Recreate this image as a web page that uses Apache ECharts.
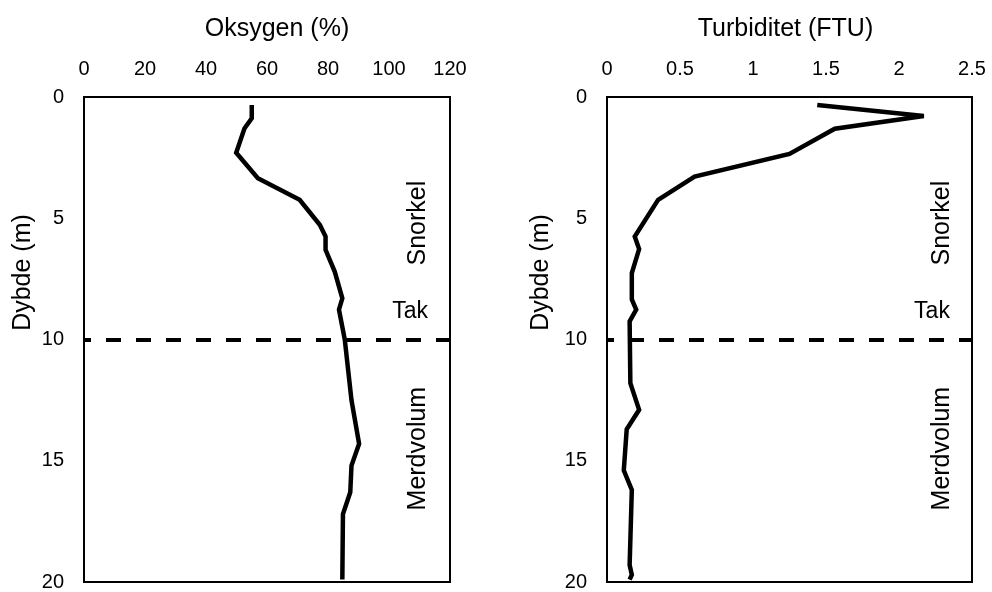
<!DOCTYPE html>
<html>
<head>
<meta charset="utf-8">
<script src="https://cdn.jsdelivr.net/npm/echarts@6/dist/echarts.min.js"></script>
<style>html,body{margin:0;padding:0;background:#fff}#c{width:992px;height:592px}</style>
</head>
<body>
<div id="c"></div>
<script>
// Oxygen profile
const oxyDepth = [0.33, 0.88, 1.3, 2.3, 3.35, 4.24, 5.27, 5.75, 6.3, 7.2, 8.3, 8.77, 10.0, 12.5, 14.3, 15.2, 16.3, 17.2, 19.9];
const oxyValue = [55.0, 55.0, 52.6, 49.9, 57.0, 70.7, 77.3, 79.2, 79.2, 82.2, 84.7, 83.6, 85.5, 87.7, 90.2, 87.7, 87.3, 84.9, 84.7];
// Turbidity profile
const turbDepth = [0.33, 0.78, 1.31, 2.35, 3.28, 4.24, 5.75, 6.27, 7.26, 8.35, 8.77, 9.25, 11.8, 12.9, 13.7, 15.4, 16.2, 19.3, 19.7, 19.9];
const turbValue = [1.44, 2.17, 1.56, 1.25, 0.60, 0.35, 0.19, 0.22, 0.17, 0.17, 0.20, 0.155, 0.16, 0.22, 0.135, 0.115, 0.17, 0.155, 0.17, 0.155];
// Axes
const oxyTicks = [0, 120, 20];
const turbTicks = [0, 2.5, 0.5];
const depthTicks = [0, 20, 5];
const roofDepth = 10;
// Zone annotations
const zoneText = ['Snorkel', 'Tak', 'Merdvolum'];
const zoneOxyX = [109.5, 106.9, 109.5];
const zoneTurbX = [2.295, 2.226, 2.295];
const zoneDepth = [5.2, 8.85, 14.5];
const zoneRotate = [90, 0, 90];

const FONT = 'Liberation Sans';
const TICK = 20, NAME = 25, ZONE = [25, 23, 25];

function xAxisDef(idx, ticks, name, pad) {
  return {
    type: 'value', gridIndex: idx, position: 'top',
    min: ticks[0], max: ticks[1], interval: ticks[2],
    name: name, nameLocation: 'middle', nameGap: 55,
    nameTextStyle: {fontFamily: FONT, fontSize: NAME, color: '#000', padding: pad},
    axisLine: {show: false}, axisTick: {show: false}, splitLine: {show: false},
    axisLabel: {fontFamily: FONT, fontSize: TICK, color: '#000', margin: 18}
  };
}
function yAxisDef(idx, gap) {
  return {
    type: 'value', gridIndex: idx, inverse: true,
    min: depthTicks[0], max: depthTicks[1], interval: depthTicks[2],
    name: 'Dybde (m)', nameLocation: 'middle', nameGap: gap,
    nameTextStyle: {fontFamily: FONT, fontSize: NAME, color: '#000', padding: [0, 0, 0, 134]},
    axisLine: {show: false}, axisTick: {show: false}, splitLine: {show: false},
    axisLabel: {fontFamily: FONT, fontSize: TICK, color: '#000', margin: 20}
  };
}
function zoneSeries(idx, xs) {
  return {
    type: 'scatter', xAxisIndex: idx, yAxisIndex: idx, symbolSize: 0, silent: true,
    itemStyle: {opacity: 1},
    data: zoneText.map((t, i) => ({
      value: [xs[i], zoneDepth[i]], name: t,
      label: {rotate: zoneRotate[i], fontSize: ZONE[i], color: '#000', textBorderWidth: 0, opacity: 1}
    })),
    label: {
      show: true, position: 'inside', fontFamily: FONT, color: '#000', textBorderWidth: 0, opacity: 1,
      formatter: p => p.name
    },
    z: 5
  };
}
function profile(idx, xs, ds) {
  return {
    type: 'line', xAxisIndex: idx, yAxisIndex: idx, showSymbol: false, symbol: 'none',
    data: xs.map((v, i) => [v, ds[i]]),
    lineStyle: {color: '#000', width: 4.5, join: 'miter', miterLimit: 3},
    z: 3,
    markLine: {
      silent: true, symbol: 'none', animation: false,
      label: {show: false},
      lineStyle: {color: '#000', width: 4, type: [15, 15], dashOffset: 8},
      data: [{yAxis: roofDepth}]
    }
  };
}

const chart = echarts.init(document.getElementById('c'), null, {renderer: 'canvas'});
chart.setOption({
  animation: false,
  backgroundColor: '#fff',
  grid: [
    {left: 84, top: 97, width: 366, height: 487, show: true, borderColor: '#000', borderWidth: 2, backgroundColor: 'transparent'},
    {left: 607, top: 97, width: 365, height: 487, show: true, borderColor: '#000', borderWidth: 2, backgroundColor: 'transparent'}
  ],
  xAxis: [xAxisDef(0, oxyTicks, 'Oksygen (%)', [0, 0, 0, 20]), xAxisDef(1, turbTicks, 'Turbiditet (FTU)', [0, 8, 0, 0])],
  yAxis: [yAxisDef(0, 48), yAxisDef(1, 53)],
  series: [
    profile(0, oxyValue, oxyDepth),
    profile(1, turbValue, turbDepth),
    zoneSeries(0, zoneOxyX),
    zoneSeries(1, zoneTurbX)
  ]
});
</script>
</body>
</html>
